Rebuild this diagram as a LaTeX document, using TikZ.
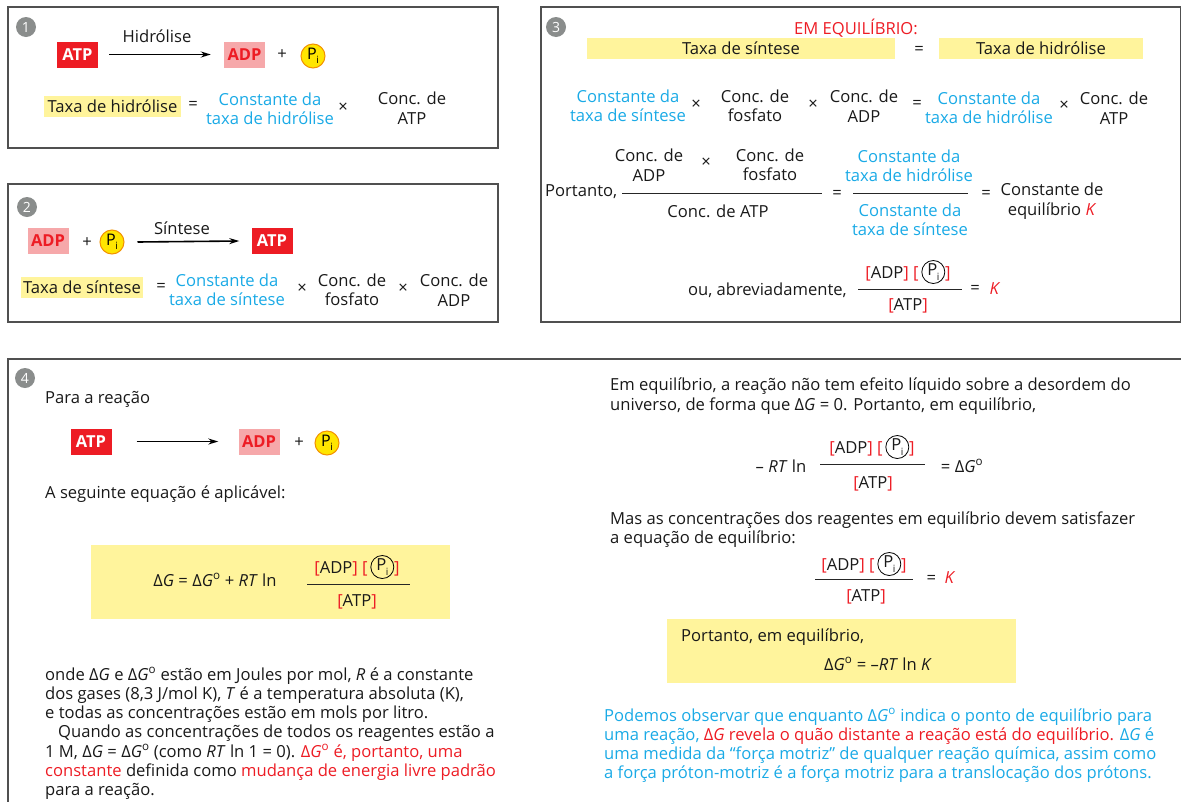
\documentclass[tikz,border=0pt]{standalone}
\usepackage{fontspec}
\setmainfont{Open Sans}
\usetikzlibrary{arrows.meta}
\definecolor{rd}{HTML}{ED1C24}
\definecolor{pk}{HTML}{F6A8AA}
\definecolor{hy}{HTML}{FFF49C}
\definecolor{cy}{HTML}{1AAAE6}
\definecolor{py}{HTML}{FFE500}
\definecolor{po}{HTML}{F29100}
\definecolor{ng}{HTML}{8A8D8C}
\definecolor{bd}{HTML}{505050}
\newcommand\dG{Δ\textit{G}}
\newcommand\dGo{Δ\textit{G}\textsuperscript{o}}
\newcommand\pisub{P\kern-0.5pt\raisebox{-0.28em}{\fontsize{10}{10}\selectfont i}}
\newcommand\cpi{\,\tikz[baseline={([yshift=-2.5pt]cp.base)}]\node[circle,draw=black,line width=0.8pt,inner sep=0pt,minimum size=23pt](cp){\pisub};}
\newcommand\brL{{\color{rd}[}}
\newcommand\brR{{\color{rd}]}}
\newcommand\concfrac{\brL ADP\brR\ \brL\cpi\brR}
\tikzset{
  txt/.style={font=\fontsize{16.6}{19.5}\selectfont, inner sep=0pt, align=center, text=black!90},
  ctxt/.style={txt, text=cy},
  ptxt/.style={font=\fontsize{16.6}{19.5}\selectfont, inner sep=0pt, anchor=base west, text=black!90},
  atpbox/.style={fill=rd, text=white, font=\fontsize{16.5}{18}\selectfont\bfseries, minimum width=41, minimum height=26, inner sep=0},
  adpbox/.style={fill=pk, text=rd, font=\fontsize{16.5}{18}\selectfont\bfseries, minimum width=41, minimum height=26, inner sep=0},
  pibox/.style={circle, fill=py, draw=po, line width=1, minimum size=24, inner sep=0, font=\fontsize{16}{18}\selectfont},
  hl/.style={fill=hy, inner sep=0, font=\fontsize{16.6}{19.5}\selectfont, text=black!90},
  numc/.style={circle, fill=ng, text=white, minimum size=20, inner sep=0, font=\fontsize{14}{14}\selectfont},
  panel/.style={draw=bd, line width=1.1},
  arr/.style={-{Stealth[length=10pt,width=6pt]}, line width=1.6},
  fbar/.style={line width=0.8, black!85},
}
\begin{document}
\begin{tikzpicture}[x=1pt,y=-1pt]
\useasboundingbox (0,0) rectangle (1181,801);
% ---------- panel 1
\draw[panel] (8,7) rectangle (498,148);
\node[numc] (n1) at (26,27) {1};
\node[atpbox] (atp1) at (77.5,54.5) {ATP};
\node[adpbox] (adp1) at (244.5,54.5) {ADP};
\draw[arr] ([xshift=11]atp1.east) -- ([xshift=-13]adp1.west);
\node[txt] (h1) at (157,36) {Hidrólise};
\node[txt] (plus1) at (282,55) {+};
\node[pibox] (pi1) at (313,56) {\pisub};
\node[hl, minimum width=137, minimum height=21] (th1) at (112.5,106) {Taxa de hidrólise};
\node[txt] (eq1) at (193,105) {=};
\node[ctxt] (k1) at (270,109) {Constante da\\taxa de hidrólise};
\node[txt] (x1) at (343,108) {×};
\node[txt] (c1) at (412,108) {Conc. de\\ATP};
% ---------- panel 2
\draw[panel] (8,184) rectangle (498,322);
\node[numc] (n2) at (27,207) {2};
\node[adpbox] (adp2) at (48,241) {ADP};
\node[txt] (plus2) at (87,243) {+};
\node[pibox] (pi2) at (112,242) {\pisub};
\node[atpbox] (atp2) at (272,241) {ATP};
\draw[arr] ([xshift=13]pi2.east) -- ([xshift=-12]atp2.west);
\node[txt] (s2) at (182,228) {Síntese};
\node[hl, minimum width=122, minimum height=21] (ts2) at (82,287) {Taxa de síntese};
\node[txt] (eq2) at (161,287) {=};
\node[ctxt] (k2) at (227,290) {Constante da\\taxa de síntese};
\node[txt] (x2a) at (302,289) {×};
\node[txt] (c2a) at (352,290) {Conc. de\\fosfato};
\node[txt] (x2b) at (403,289) {×};
\node[txt] (c2b) at (454,290) {Conc. de\\ADP};
% ---------- panel 3
\draw[panel] (541,7) rectangle (1180.5,322);
\node[numc] (n3) at (556,27) {3};
\node[txt, text=rd] (eqt) at (856,28) {EM EQUILÍBRIO:};
\node[hl, minimum width=308, minimum height=21] (ts3) at (741,48.5) {Taxa de síntese};
\node[txt] (eq3a) at (919,50) {=};
\node[hl, minimum width=204, minimum height=21] (th3) at (1041,48.5) {Taxa de hidrólise};
\node[ctxt] (k3a) at (628,106) {Constante da\\taxa de síntese};
\node[txt] (x3a) at (696,105) {×};
\node[txt] (c3a) at (755,106) {Conc. de\\fosfato};
\node[txt] (x3b) at (813,105) {×};
\node[txt] (c3b) at (864,106) {Conc. de\\ADP};
\node[txt] (eq3b) at (917,104) {=};
\node[ctxt] (k3b) at (989,108) {Constante da\\taxa de hidrólise};
\node[txt] (x3c) at (1064,106) {×};
\node[txt] (c3c) at (1114,108) {Conc. de\\ATP};
\node[txt, anchor=west] (port) at (545,192) {Portanto,};
\node[txt] (fa) at (649,165) {Conc. de\\ADP};
\node[txt] (fx) at (706,163) {×};
\node[txt] (fb) at (770,165) {Conc. de\\fosfato};
\draw[fbar] (622,193) -- (822,193);
\node[txt] (fc) at (718,211) {Conc. de ATP};
\node[txt] (eq3c) at (837,194) {=};
\node[ctxt] (fd) at (909,166) {Constante da\\taxa de hidrólise};
\draw[fbar] (853,193) -- (968,193);
\node[ctxt] (fe) at (910,220) {Constante da\\taxa de síntese};
\node[txt] (eq3d) at (986,194) {=};
\node[txt] (ke) at (1052,201) {Constante de\\equilíbrio {\color{rd}\textit{K}}};
\node[txt, anchor=east] (ou) at (847,290) {ou, abreviadamente,};
\node[txt] (g1) at (908,272) {\concfrac};
\draw[fbar] (858,289) -- (962,289);
\node[txt] (g2) at (908,306) {\brL ATP\brR};
\node[txt] (eq3e) at (975,289) {=};
\node[txt, text=rd] (k3) at (995,289) {\textit{K}};
% ---------- panel 4
\draw[panel] (8,801.5) -- (8,359) -- (1181.5,359);
\node[numc] (n4) at (25,378) {4};
\node[ptxt] (p1) at (45,403) {Para a reação};
\node[atpbox] (atp4) at (91,441.5) {ATP};
\node[adpbox] (adp4) at (259,441.5) {ADP};
\draw[arr] ([xshift=25]atp4.east) -- ([xshift=-20]adp4.west);
\node[txt] (plus4) at (299,443) {+};
\node[pibox] (pi4) at (327,443) {\pisub};
\node[ptxt] (p2) at (45,498) {A seguinte equação é aplicável:};
\fill[hy] (91,545) rectangle (450,619);
\node[txt] (dge) at (215,580) {\dG\ = \dGo\ + \textit{RT} ln};
\node[txt] (h4n) at (357,567) {\concfrac};
\draw[fbar] (307,584) -- (410,584);
\node[txt] (h4d) at (357,602) {\brL ATP\brR};
\node[ptxt] (l1) at (45,680) {onde \dG\ e \dGo\ estão em Joules por mol, \textit{R} é a constante};
\node[ptxt] (l2) at (45,699) {dos gases (8,3 J/mol K), \textit{T} é a temperatura absoluta (K),};
\node[ptxt] (l3) at (45,718) {e todas as concentrações estão em mols por litro.};
\node[ptxt] (l4) at (58,737) {Quando as concentrações de todos os reagentes estão a};
\node[ptxt] (l5) at (45,757) {1 M, \dG\ = \dGo\ (como \textit{RT} ln 1 = 0). {\color{rd}\dGo\ é, portanto, uma}};
\node[ptxt] (l6) at (45,776) {{\color{rd}constante} definida como {\color{rd}mudança de energia livre padrão}};
\node[ptxt] (l7) at (45,795) {para a reação.};
% right column
\node[ptxt] (r1) at (610,390) {Em equilíbrio, a reação não tem efeito líquido sobre a desordem do};
\node[ptxt] (r2) at (610,410) {universo, de forma que \dG\ = 0. Portanto, em equilíbrio,};
\node[txt] (rt) at (781,466) {– \textit{RT} ln};
\node[txt] (e1n) at (872,447) {\concfrac};
\draw[fbar] (820,464) -- (925,464);
\node[txt] (e1d) at (873,484) {\brL ATP\brR};
\node[txt] (e1r) at (962,466) {= \dGo};
\node[ptxt] (r3) at (610,524) {Mas as concentrações dos reagentes em equilíbrio devem satisfazer};
\node[ptxt] (r4) at (610,543) {a equação de equilíbrio:};
\node[txt] (e2n) at (864,564) {\concfrac};
\draw[fbar] (815,579) -- (913,579);
\node[txt] (e2d) at (866,597) {\brL ATP\brR};
\node[txt] (e2r) at (941,578) {= \ {\color{rd}\textit{K}}};
\fill[hy] (667,619) rectangle (1016,683);
\node[ptxt] (y1) at (681,641) {Portanto, em equilíbrio,};
\node[txt] (y2) at (878,664) {\dGo\ = –\textit{RT} ln \textit{K}};
\node[ptxt, text=cy] (b1) at (604,721) {Podemos observar que enquanto \dGo\ indica o ponto de equilíbrio para};
\node[ptxt, text=cy] (b2) at (604,740) {uma reação, {\color{rd}\dG\ revela o quão distante a reação está do equilíbrio.} \dG\ é};
\node[ptxt, text=cy] (b3) at (604,759) {uma medida da “força motriz” de qualquer reação química, assim como};
\node[ptxt, text=cy] (b4) at (604,778) {a força próton-motriz é a força motriz para a translocação dos prótons.};
\end{tikzpicture}
\end{document}
